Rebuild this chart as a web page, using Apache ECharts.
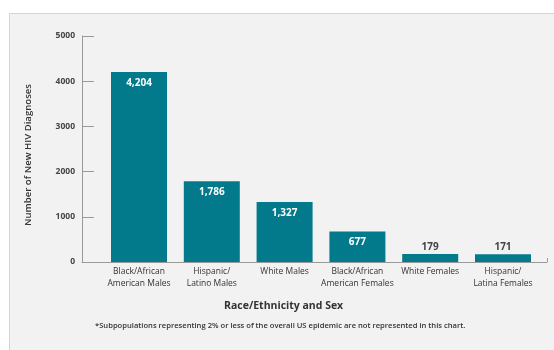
<!DOCTYPE html>
<html><head><meta charset="utf-8">
<script src="https://cdn.jsdelivr.net/npm/echarts@6/dist/echarts.min.js"></script>
<style>html,body{margin:0;padding:0;background:#fff}#c{width:554px;height:350px}</style>
</head><body><div id="c"></div>
<script>
const categories = ["Black/African\nAmerican Males", "Hispanic/\nLatino Males", "White Males", "Black/African\nAmerican Females", "White Females", "Hispanic/\nLatina Females"];
const diagnoses = [4204, 1786, 1327, 677, 179, 171];
const yTicks = [0, 1000, 2000, 3000, 4000, 5000];
const yAxisTitle = "Number of New HIV Diagnoses";
const xAxisTitle = "Race/Ethnicity and Sex";
const footnote = "*Subpopulations representing 2% or less of the overall US epidemic are not represented in this chart.";

const FONT = "Open Sans";
const chart = echarts.init(document.getElementById('c'), null, {renderer: 'canvas'});
const gridTop = 36, gridBottom = 350 - 262;
chart.setOption({
  animation: false,
  backgroundColor: '#ffffff',
  graphic: [
    {type: 'rect', z: -10, shape: {x: 9.5, y: 13.5, width: 560, height: 345}, style: {fill: '#f2f2f2', stroke: '#d4d4d4', lineWidth: 1}},
    {type: 'text', top: 322, left: 95, style: {text: footnote, font: '600 7.6px "' + FONT + '"', fill: '#333'}},
    {type: 'text', top: 301, left: 224, style: {text: xAxisTitle, font: '700 10.5px "' + FONT + '"', fill: '#333'}}
  ],
  grid: [
    {left: 102.6, right: 14.6, top: gridTop, bottom: gridBottom},
    {left: 82, right: 7, top: gridTop, bottom: gridBottom}
  ],
  xAxis: [
    {type: 'category', gridIndex: 0, data: categories,
     axisLine: {show: false}, axisTick: {show: false},
     axisLabel: {interval: 0, color: '#333', fontFamily: FONT, fontSize: 8.5, lineHeight: 12, margin: 4}},
    {type: 'value', gridIndex: 1, min: 0, max: 1, interval: 1,
     axisLine: {show: true, lineStyle: {color: '#999', width: 1}},
     axisTick: {show: true, inside: true, length: 4, lineStyle: {color: '#999'}},
     axisLabel: {show: false}, splitLine: {show: false}}
  ],
  yAxis: [
    {type: 'value', gridIndex: 0, min: yTicks[0], max: yTicks[yTicks.length - 1], interval: 1000, offset: 20.6,
     name: yAxisTitle, nameLocation: 'middle', nameRotate: 90, nameGap: 49,
     nameTextStyle: {color: '#333', fontFamily: FONT, fontSize: 9.6, fontWeight: 600, padding: [0, 0, 0, -12]},
     axisLine: {show: true, lineStyle: {color: '#999', width: 1}},
     axisTick: {show: true, inside: true, length: 12, lineStyle: {color: '#999'}},
     axisLabel: {color: '#444', fontFamily: FONT, fontSize: 8.5, fontWeight: 700, margin: 7, formatter: v => String(v)},
     splitLine: {show: false}},
    {type: 'value', gridIndex: 1, show: false}
  ],
  series: [{
    type: 'bar', xAxisIndex: 0, yAxisIndex: 0,
    data: diagnoses.map(v => ({
      value: v,
      label: v > 500
        ? {show: true, position: 'insideTop', distance: 6, color: '#fff', fontFamily: FONT, fontWeight: 700, fontSize: 10}
        : {show: true, position: 'top', distance: 2, color: '#444', fontFamily: FONT, fontWeight: 700, fontSize: 10}
    })),
    barWidth: 56,
    itemStyle: {color: '#027a8b'},
    label: {formatter: p => p.value.toLocaleString('en-US')}
  }]
});
</script></body></html>
